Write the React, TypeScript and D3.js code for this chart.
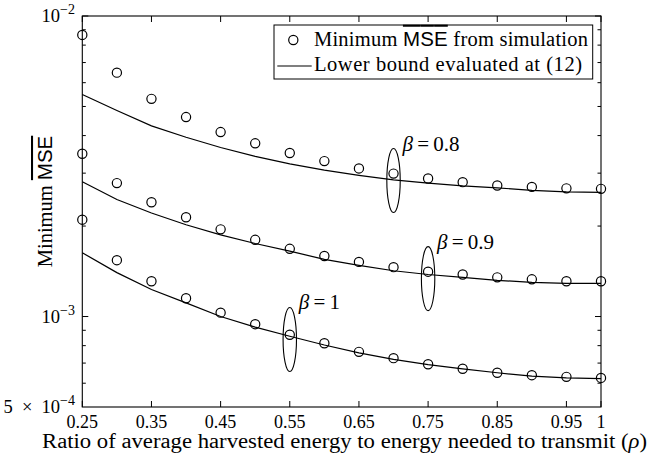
import { useEffect, useRef } from 'react';
import * as d3 from 'd3';

// rho values where everything was evaluated
const rho = [0.25, 0.3, 0.35, 0.4, 0.45, 0.5, 0.55, 0.6, 0.65, 0.7, 0.75, 0.8, 0.85, 0.9, 0.95, 1];

// simulation (markers)
const simBeta08 = [0.00865, 0.00648, 0.0053, 0.00461, 0.00411, 0.00377, 0.0035, 0.00329, 0.00311, 0.00299, 0.00288, 0.0028, 0.00273, 0.0027, 0.00267, 0.00266];
const simBeta09 = [0.00348, 0.00278, 0.0024, 0.00214, 0.00195, 0.0018, 0.00168, 0.00159, 0.00152, 0.00146, 0.00141, 0.00138, 0.00135, 0.00133, 0.00131, 0.00131];
const simBeta1 = [0.0021, 0.00154, 0.00131, 0.00115, 0.00103, 0.000943, 0.00087, 0.000815, 0.000763, 0.000727, 0.000694, 0.00067, 0.00065, 0.000638, 0.00063, 0.000625];

// lower bound (lines)
const boundBeta08 = [0.00548, 0.00485, 0.00431, 0.00395, 0.00365, 0.00341, 0.00322, 0.00307, 0.00295, 0.00285, 0.00278, 0.00272, 0.00268, 0.00263, 0.0026, 0.00259];
const boundBeta09 = [0.00281, 0.00245, 0.00221, 0.00202, 0.00187, 0.00175, 0.00165, 0.00155, 0.00148, 0.00142, 0.00138, 0.00135, 0.00132, 0.0013, 0.00129, 0.00129];
const boundBeta1 = [0.00163, 0.0014, 0.00123, 0.00111, 0.001, 0.000922, 0.00086, 0.000804, 0.000757, 0.00072, 0.000692, 0.00067, 0.00065, 0.000633, 0.000625, 0.000621];

// ellipse annotations
const annotLabels = ['0.8', '0.9', '1'];
const annotRho = [0.7, 0.75, 0.55];
const annotValue = [0.002835, 0.001337, 0.000839];

// axis ticks
const xTicks = [0.25, 0.35, 0.45, 0.55, 0.65, 0.75, 0.85, 0.95, 1];
const xTickLabels = ['0.25', '0.35', '0.45', '0.55', '0.65', '0.75', '0.85', '0.95', '1'];
const yMajor = [1e-2, 1e-3];
const yMinor = [6e-4, 7e-4, 8e-4, 9e-4, 2e-3, 3e-3, 4e-3, 5e-3, 6e-3, 7e-3, 8e-3, 9e-3];
const yLabelVals = [1e-2, 1e-3, 5e-4];
const yLabelMant = ['', '', '5\u2002×\u2002'];
const yLabelExp = ['−2', '−3', '−4'];

const W = 657;
const H = 457;
const serif = 'Liberation Serif, Times New Roman, Times, DejaVu Serif, serif';
const sans = 'Liberation Sans, Arial, DejaVu Sans, sans-serif';
const ink = '#000';

export default function App() {
  const svgRef = useRef<SVGSVGElement>(null);

  useEffect(() => {
    document.body.style.margin = '0';
    const svg = d3.select(svgRef.current);
    svg.selectAll('*').remove();

    const m = { left: 82.3, right: 601, top: 16, bottom: 407 };
    const x = d3.scaleLinear().domain([0.25, 1]).range([m.left, m.right]);
    const y = d3.scaleLog().domain([5e-4, 1e-2]).range([m.bottom, m.top]);

    const g = svg.append('g');

    // box
    g.append('rect')
      .attr('x', m.left).attr('y', m.top)
      .attr('width', m.right - m.left).attr('height', m.bottom - m.top)
      .attr('fill', 'none').attr('stroke', ink).attr('stroke-width', 1.1);

    // x ticks (inward, bottom + top)
    xTicks.forEach((t) => {
      g.append('line').attr('x1', x(t)).attr('x2', x(t)).attr('y1', m.bottom).attr('y2', m.bottom - 6).attr('stroke', ink);
      g.append('line').attr('x1', x(t)).attr('x2', x(t)).attr('y1', m.top).attr('y2', m.top + 6).attr('stroke', ink);
    });
    xTicks.forEach((t, i) => {
      g.append('text')
        .attr('x', x(t)).attr('y', 427.5)
        .attr('text-anchor', 'middle')
        .attr('font-family', serif).attr('font-size', 18)
        .text(xTickLabels[i]);
    });

    // y ticks
    yMajor.forEach((t) => {
      g.append('line').attr('x1', m.left).attr('x2', m.left + 6).attr('y1', y(t)).attr('y2', y(t)).attr('stroke', ink);
      g.append('line').attr('x1', m.right).attr('x2', m.right - 6).attr('y1', y(t)).attr('y2', y(t)).attr('stroke', ink);
    });
    yMinor.forEach((t) => {
      g.append('line').attr('x1', m.left).attr('x2', m.left + 3.5).attr('y1', y(t)).attr('y2', y(t)).attr('stroke', ink);
      g.append('line').attr('x1', m.right).attr('x2', m.right - 3.5).attr('y1', y(t)).attr('y2', y(t)).attr('stroke', ink);
    });
    yLabelVals.forEach((v, i) => {
      const tx = g.append('text')
        .attr('x', 75).attr('y', y(v) + 6)
        .attr('text-anchor', 'end')
        .attr('font-family', serif).attr('font-size', 18.5);
      tx.append('tspan').text(yLabelMant[i] + '10');
      tx.append('tspan').attr('dy', -8).attr('font-size', 14).text(yLabelExp[i]);
    });

    // axis labels
    g.append('text')
      .attr('x', (42 + 647) / 2).attr('y', 448)
      .attr('text-anchor', 'middle')
      .attr('font-family', serif).attr('font-size', 20.5)
      .attr('textLength', 605).attr('lengthAdjust', 'spacingAndGlyphs')
      .html('Ratio of average harvested energy to energy needed to transmit (<tspan font-style="italic">ρ</tspan>)');

    const yl = g.append('text')
      .attr('transform', `translate(52,${(145 + 258) / 2}) rotate(-90)`)
      .attr('text-anchor', 'middle')
      .attr('font-family', serif).attr('font-size', 20.5);
    yl.append('tspan').text('Minimum ');
    yl.append('tspan').attr('font-family', sans).style('text-decoration', 'overline').text('MSE');

    // bound lines
    const line = d3.line<number>().x((_, i) => x(rho[i])).y((d) => y(d));
    [boundBeta08, boundBeta09, boundBeta1].forEach((s) => {
      g.append('path').attr('d', line(s)).attr('fill', 'none').attr('stroke', ink).attr('stroke-width', 1.2);
    });

    // sim markers
    [simBeta08, simBeta09, simBeta1].forEach((s) => {
      g.selectAll(null)
        .data(s)
        .join('circle')
        .attr('cx', (_, i) => x(rho[i]))
        .attr('cy', (d) => y(d))
        .attr('r', 4.6)
        .attr('fill', 'none').attr('stroke', ink).attr('stroke-width', 1.2);
    });

    // ellipse annotations
    annotLabels.forEach((lab, i) => {
      const cx = x(annotRho[i]);
      const cy = y(annotValue[i]);
      g.append('ellipse').attr('cx', cx).attr('cy', cy).attr('rx', 6.7).attr('ry', 32)
        .attr('fill', 'none').attr('stroke', ink).attr('stroke-width', 1.1);
      const t = g.append('text')
        .attr('x', cx + 9).attr('y', cy - 30)
        .attr('font-family', serif).attr('font-size', 21);
      t.append('tspan').attr('font-style', 'italic').text('β');
      t.append('tspan').text('\u2009=\u2009' + lab);
    });

    // legend
    const lg = g.append('g');
    lg.append('rect').attr('x', 274).attr('y', 25).attr('width', 318.7).attr('height', 54)
      .attr('fill', '#fff').attr('stroke', ink).attr('stroke-width', 1);
    lg.append('circle').attr('cx', 293.3).attr('cy', 40).attr('r', 4.6)
      .attr('fill', 'none').attr('stroke', ink).attr('stroke-width', 1.2);
    const l1 = lg.append('text').attr('x', 314).attr('y', 45.7).attr('font-family', serif).attr('font-size', 20.5)
      .attr('textLength', 274);
    l1.append('tspan').text('Minimum ');
    l1.append('tspan').attr('font-family', sans).style('text-decoration', 'overline').text('MSE');
    l1.append('tspan').text(' from simulation');
    lg.append('line').attr('x1', 277.3).attr('x2', 311.7).attr('y1', 66).attr('y2', 66)
      .attr('stroke', ink).attr('stroke-width', 1.2);
    lg.append('text').attr('x', 314).attr('y', 71).attr('font-family', serif).attr('font-size', 20.5)
      .attr('textLength', 268)
      .text('Lower bound evaluated at (12)');
  }, []);

  return <svg ref={svgRef} width={W} height={H} style={{ display: 'block', background: '#fff' }} />;
}
